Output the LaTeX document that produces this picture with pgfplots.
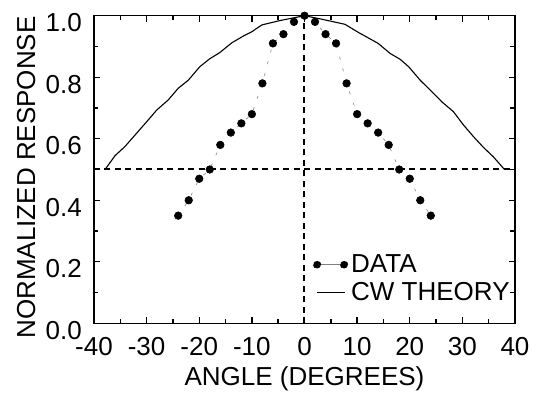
\documentclass[border=0pt]{standalone}
\usepackage{fontspec}
\setmainfont{Liberation Sans}
\usepackage{pgfplots}
\pgfplotsset{compat=1.18}
\begin{document}
\begin{tikzpicture}
\path[use as bounding box] (-94bp,-71.7bp) rectangle (444bp,323.3bp);
\begin{axis}[
  at={(0,0)}, anchor=south west,
  scale only axis, width=421bp, height=307.6bp,
  xmin=-40, xmax=40, ymin=0, ymax=1,
  clip=false,
  axis line style={line width=1.6bp},
  xtick={-40,-30,...,40},
  xticklabels={-40,-30,-20,-10,0,10,20,30,40},
  ytick={0,0.2,0.4,0.6,0.8,1.0},
  yticklabels={0.0,0.2,0.4,0.6,0.8,1.0},
  minor x tick num=1, minor y tick num=1,
  tick style={black, line width=1.4bp},
  major tick length=6bp, minor tick length=4.5bp,
  tick align=inside,
  font=\fontsize{26bp}{30bp}\selectfont,
  xticklabel style={anchor=base, inner sep=0pt, yshift=-31.7bp},
  yticklabel style={anchor=east, inner sep=0pt, xshift=-12bp, yshift=-7bp},
  xlabel={ANGLE (DEGREES)},
  ylabel={NORMALIZED RESPONSE},
  xlabel style={at={(axis description cs:0.5,-0.2006)}, anchor=base, inner sep=0pt},
  ylabel style={at={(axis description cs:-0.1401,0.474)}, anchor=base, inner sep=0pt},
  reverse legend,
  legend cell align=left,
  legend style={draw=none, fill=none, inner sep=0pt, outer sep=0pt,
    at={(axis cs:1.62,0.222)}, anchor=north west,
    row sep=8bp, column sep=3bp,
    nodes={inner sep=0pt}},
]
\draw[black, line width=2bp, dash pattern=on 6bp off 4.5bp] (axis cs:-40,0.5) -- (axis cs:40,0.5);
\draw[black, line width=2bp, dash pattern=on 6bp off 4.5bp] (axis cs:0,0) -- (axis cs:0,1);
\addplot[black, line width=1.1bp, mark=none,
  legend image code/.code={\draw[black, line width=1.1bp, solid] (0bp,0bp) -- (28bp,0bp);}]
  coordinates {
  (-37.9,0.5) (-36,0.545) (-34.1,0.575) (-31.9,0.618) (-30,0.655) (-28.1,0.693)
  (-25.9,0.726) (-24,0.764) (-22.1,0.79) (-19.9,0.834) (-18,0.86) (-16.1,0.88)
  (-13.8,0.912) (-11.6,0.934) (-10,0.948) (-8.1,0.97) (-4.7,0.984) (0,1.0)
  (2.9,0.99) (7.7,0.972) (10.2,0.946) (14,0.91) (16.3,0.877) (18.2,0.858)
  (19.8,0.834) (22,0.79) (23.9,0.758) (26.1,0.72) (28.3,0.688) (30.2,0.645)
  (32.1,0.607) (34,0.572) (35.9,0.541) (38,0.5)
  };
\addlegendentry{CW THEORY}
\addplot[gray, line width=0.6bp, dash pattern=on 3bp off 9bp,
  mark=*, mark size=3.8bp, mark options={solid, fill=black, draw=black},
  legend image code/.code={
    \draw[gray, line width=1bp, solid] (0bp,0bp) -- (27bp,0bp);
    \fill[black] (0bp,0bp) circle (3.8bp);
    \fill[black] (27bp,0bp) circle (3.8bp);}]
  coordinates {
  (-24,0.35) (-22,0.40) (-20,0.47) (-18,0.50) (-16,0.58) (-14,0.62) (-12,0.65)
  (-10,0.68) (-8,0.78) (-6,0.91) (-4,0.94) (-2,0.98) (0,1.0) (2,0.98) (4,0.94)
  (6,0.91) (8,0.78) (10,0.68) (12,0.65) (14,0.62) (16,0.58) (18,0.50) (20,0.47)
  (22,0.40) (24,0.35)
  };
\addlegendentry{DATA}
\end{axis}
\end{tikzpicture}
\end{document}
